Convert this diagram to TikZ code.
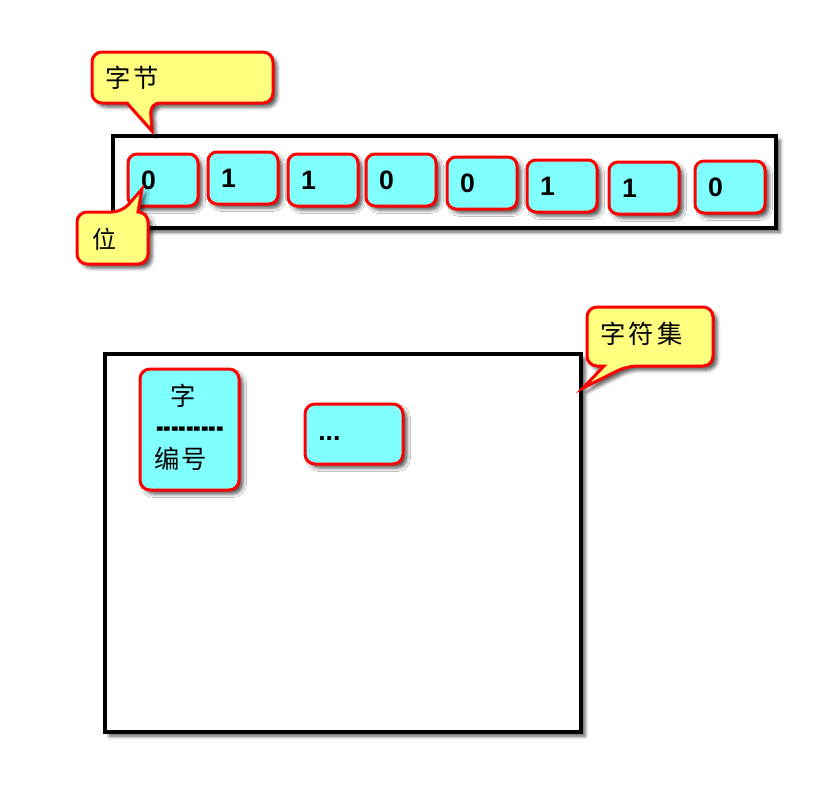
\documentclass[tikz,border=0pt]{standalone}
\usepackage{fontspec}
\setmainfont{Liberation Sans}
\newfontfamily\cjk{Noto Sans CJK SC}
\usetikzlibrary{shadows.blur}
\newlength\pxu \setlength\pxu{0.75pt}
\definecolor{cellcyan}{RGB}{128,255,255}
\definecolor{noteyellow}{RGB}{255,255,128}
\begin{document}
\begin{tikzpicture}[x=0.75pt,y=-0.75pt,
  shade/.style={blur shadow={shadow xshift=4\pxu, shadow yshift=-4\pxu, shadow blur radius=3.5\pxu, shadow opacity=65}},
  frame/.style={draw=black, line width=4\pxu, fill=white, shade, inner sep=0pt},
  bitbox/.style={draw=red, line width=3\pxu, fill=cellcyan, rounded corners=9\pxu, shade,
    minimum height=52\pxu, inner xsep=13\pxu, inner ysep=0pt, text width=44\pxu, align=left,
    font=\fontsize{20}{24}\selectfont\bfseries},
  cellbox/.style={draw=red, line width=3\pxu, fill=cellcyan, rounded corners=10\pxu, shade, inner sep=0pt},
  callout/.style={draw=red, line width=3\pxu, fill=noteyellow, shade},
  cjktext/.style={font=\cjk\fontsize{19}{22}\selectfont, inner sep=0pt},
  boldtext/.style={font=\fontsize{20}{24}\selectfont\bfseries, inner sep=0pt}]
\useasboundingbox (0,0) rectangle (828,800);

% byte frame with bits
\node[frame, minimum width=663\pxu, minimum height=92\pxu] (byte) at (444.5,182) {};
\node[bitbox] (b1) at (163,180) {0};
\node[bitbox] (b2) at (243,178) {1};
\node[bitbox] (b3) at (323,180) {1};
\node[bitbox] (b4) at (401,180) {0};
\node[bitbox] (b5) at (482,183) {0};
\node[bitbox] (b6) at (562,186) {1};
\node[bitbox] (b7) at (644,188) {1};
\node[bitbox] (b8) at (730,187) {0};

% callout: byte
\draw[callout] (180,52) [rounded corners=10\pxu] -- (273,52) -- (273,103) -- (150,103)
  [sharp corners] -- (152,131) -- (127,103) [rounded corners=10\pxu] -- (92,103) -- (92,52) -- cycle;
\node[cjktext, anchor=west] (tbyte) at (105,78) {字\hspace{2pt}节};

% callout: bit
\draw[callout] (100,264) [rounded corners=10\pxu] -- (77,264) -- (77,212) -- (122,212)
  [sharp corners] -- (142,189) -- (138,212) [rounded corners=10\pxu] -- (148,212) -- (148,264) -- cycle;
\node[cjktext, anchor=west, font=\cjk\fontsize{18}{22}\selectfont] (tbit) at (92,239) {位};

% charset frame
\node[frame, minimum width=476\pxu, minimum height=378\pxu] (charset) at (343,543) {};

% callout: charset
\draw[callout] (650,307) [rounded corners=10\pxu] -- (713,307) -- (713,366) -- (627,366)
  [sharp corners] -- (583,388) -- (604,366) [rounded corners=10\pxu] -- (587,366) -- (587,307) -- cycle;
\node[cjktext, anchor=west] (tcharset) at (600,334) {字\hspace{2.5pt}符\hspace{2.5pt}集};

% cells
\node[cellbox, minimum width=99\pxu, minimum height=121\pxu] (cell1) at (189.5,429.5) {};
\node[cjktext] (czi) at (183,396) {字};
\node[inner sep=0pt, font=\fontsize{17}{20}\selectfont\bfseries, text height=0.4em, text depth=0pt,
  anchor=base, yscale=1.6] (cdash) at (190,438) {-{}-{}-{}-{}-{}-{}-{}-{}-};
\node[cjktext, anchor=west] (cnum) at (154,459) {编\hspace{1.5pt}号};

\node[cellbox, minimum width=98\pxu, minimum height=60\pxu] (cell2) at (354,434) {};
\node[boldtext, anchor=base west] (cdots) at (318,440) {...};
\end{tikzpicture}
\end{document}
